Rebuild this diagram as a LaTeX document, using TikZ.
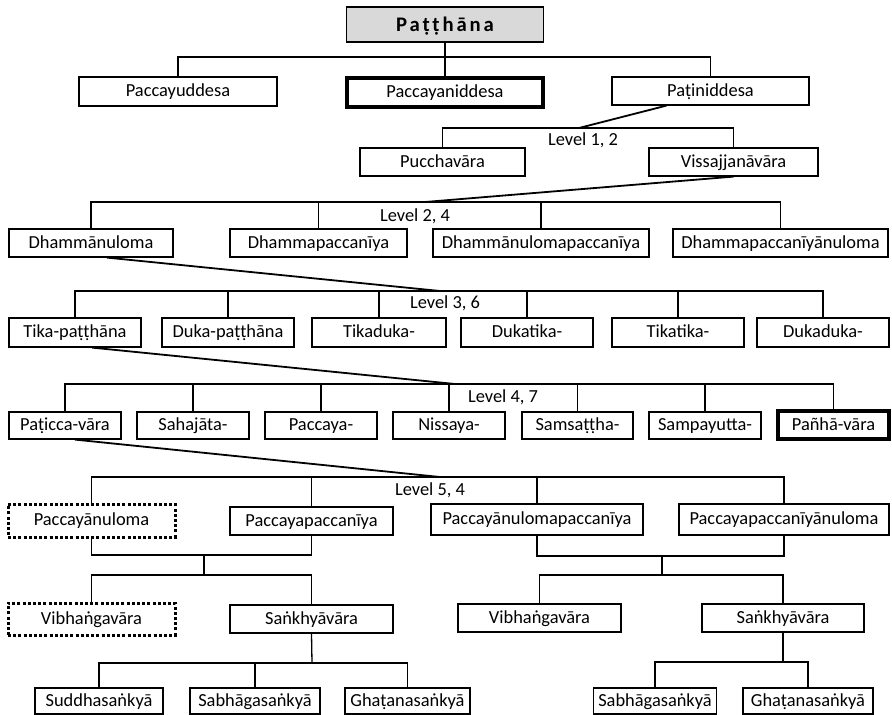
\documentclass[tikz,border=0pt]{standalone}
\usepackage{fontspec}
\setmainfont{Carlito}
\newfontfamily\titlefont[LetterSpace=14]{Carlito}
\usetikzlibrary{calc}
\definecolor{titlegray}{HTML}{D9D9D9}
\begin{document}
\begin{tikzpicture}[x=1pt,y=-1pt,
  box/.style={draw,line width=1.2pt,inner sep=0pt,align=center,
    font=\fontsize{18.4}{20}\selectfont,text height=14pt,text depth=3.6pt},
  thickbox/.style={box,line width=4pt},
  dotbox/.style={box,line width=3pt,dash pattern=on 3pt off 2.2pt},
  lvl/.style={inner sep=0pt,font=\fontsize{18.4}{20}\selectfont,text height=14pt,text depth=3.6pt},
  edge/.style={line width=1.3pt},
  diag/.style={line width=1.8pt},
  sz/.style 2 args={minimum width=#1pt,minimum height=#2pt}
]
\useasboundingbox[fill=white] (0,0) rectangle (892,715);

% Row 0
\node[box,fill=titlegray,sz={197}{35},font=\titlefont\bfseries\fontsize{20.7}{24}\selectfont,text height=16pt,text depth=1.6pt] (pat) at (445,24.5) {Paṭṭhāna};

% Row 1
\node[box,sz={198}{29}] (r1a) at (178,91.5) {Paccayuddesa};
\node[thickbox,sz={196}{29}] (r1b) at (445,92.5) {Paccayaniddesa};
\node[box,sz={197}{28}] (r1c) at (710.5,91) {Paṭiniddesa};

% Level 1
\node[box,sz={165}{28}] (l1a) at (442.5,162) {Pucchavāra};
\node[box,sz={169}{28}] (l1b) at (733.5,162) {Vissajjanāvāra};

% Level 2
\node[box,sz={164}{28}] (l2a) at (91,243) {Dhammānuloma};
\node[box,sz={177}{28}] (l2b) at (318.5,243) {Dhammapaccanīya};
\node[box,sz={216}{28}] (l2c) at (541,243) {Dhammānulomapaccanīya};
\node[box,sz={215}{28}] (l2d) at (780.5,243) {Dhammapaccanīyānuloma};

% Level 3
\node[box,sz={132}{29}] (l3a) at (75,332.5) {Tika-paṭṭhāna};
\node[box,sz={132}{29}] (l3b) at (228,332.5) {Duka-paṭṭhāna};
\node[box,sz={134}{29}] (l3c) at (379,332.5) {Tikaduka-};
\node[box,sz={132}{29}] (l3d) at (527,332.5) {Dukatika-};
\node[box,sz={132}{29}] (l3e) at (678,332.5) {Tikatika-};
\node[box,sz={132}{29}] (l3f) at (823,332.5) {Dukaduka-};

% Level 4
\node[box,sz={112}{27}] (l4a) at (65,425.5) {Paṭicca-vāra};
\node[box,sz={112}{27}] (l4b) at (193,425.5) {Sahajāta-};
\node[box,sz={112}{27}] (l4c) at (321,425.5) {Paccaya-};
\node[box,sz={112}{27}] (l4d) at (449,425.5) {Nissaya-};
\node[box,sz={111}{27}] (l4e) at (577.5,425.5) {Samsaṭṭha-};
\node[box,sz={112}{27}] (l4f) at (705,425.5) {Sampayutta-};
\node[thickbox,sz={111}{28}] (l4g) at (833.5,425) {Pañhā-vāra};

% Level 5
\node[dotbox,sz={167}{33}] (l5a) at (91.5,520.5) {Paccayānuloma};
\node[box,sz={163}{28}] (l5b) at (311.5,521) {Paccayapaccanīya};
\node[box,sz={212}{31}] (l5c) at (537,519.5) {Paccayānulomapaccanīya};
\node[box,sz={210}{31}] (l5d) at (784,519.5) {Paccayapaccanīyānuloma};

% Row 6
\node[dotbox,sz={167}{32}] (l6a) at (91.5,619) {Vibhaṅgavāra};
\node[box,sz={163}{28}] (l6b) at (311.5,619) {Saṅkhyāvāra};
\node[box,sz={163}{28}] (l6c) at (539.5,618) {Vibhaṅgavāra};
\node[box,sz={162}{28}] (l6d) at (783,618) {Saṅkhyāvāra};

% Row 7
\node[box,sz={128}{26}] (l7a) at (99,701) {Suddhasaṅkyā};
\node[box,sz={130}{26}] (l7b) at (255,701) {Sabhāgasaṅkyā};
\node[box,sz={125}{26}] (l7c) at (407.5,701) {Ghaṭanasaṅkyā};
\node[box,sz={123}{26}] (l7d) at (655,701) {Sabhāgasaṅkyā};
\node[box,sz={130}{26}] (l7e) at (808,701) {Ghaṭanasaṅkyā};

% Level labels
\node[lvl] (lv1) at (583,140) {Level 1, 2};
\node[lvl] (lv2) at (415,216) {Level 2, 4};
\node[lvl] (lv3) at (445,303) {Level 3, 6};
\node[lvl] (lv4) at (503,397) {Level 4, 7};
\node[lvl] (lv5) at (430,490) {Level 5, 4};

% Junctions
\coordinate (b0) at (445,57);
\coordinate (j1) at (579,128);
\coordinate (j2) at (425,202);
\coordinate (j3) at (440,291);
\coordinate (j4) at (455,384);
\coordinate (j5) at (440,477);
\coordinate (m1) at (204,555);
\coordinate (m2) at (204,575);
\coordinate (m3) at (662,556);
\coordinate (m4) at (662,575);
\coordinate (m5) at (312,663);
\coordinate (m6) at (784,662);

% Row 0 -> Row 1
\draw[edge] (pat.south) -- (r1b.north);
\draw[edge] (r1a.north) |- (b0) -| (r1c.north);

% Level 1
\draw[diag] ([xshift=-44pt]r1c.south) -- (j1);
\draw[edge] (l1a.north) |- (j1) -| (l1b.north);

% Level 2
\draw[diag] (l1b.south) -- (j2);
\draw[edge] (l2a.north) |- (j2) -| (l2d.north);
\draw[edge] (l2b.north) -- (l2b.north |- j2);
\draw[edge] (l2c.north) -- (l2c.north |- j2);

% Level 3
\draw[diag] ([xshift=16pt]l2a.south) -- (j3);
\draw[edge] (l3a.north) |- (j3) -| (l3f.north);
\foreach \n in {l3b,l3c,l3d,l3e} \draw[edge] (\n.north) -- (\n.north |- j3);

% Level 4
\draw[diag] ([xshift=17pt]l3a.south) -- (j4);
\draw[edge] (l4a.north) |- (j4) -| (l4g.north);
\foreach \n in {l4b,l4c,l4d,l4e,l4f} \draw[edge] (\n.north) -- (\n.north |- j4);

% Level 5
\draw[diag] ([xshift=10pt]l4a.south) -- (j5);
\draw[edge] (l5a.north) |- (j5) -| (l5d.north);
\foreach \n in {l5b,l5c} \draw[edge] (\n.north) -- (\n.north |- j5);

% Lower joins
\draw[edge] (l5a.south) |- (m1) -| (l5b.south);
\draw[edge] (m1) -- (m2);
\draw[edge] (l6a.north) |- (m2) -| (l6b.north);
\draw[edge] (l5c.south) |- (m3) -| (l5d.south);
\draw[edge] (m3) -- (m4);
\draw[edge] (l6c.north) |- (m4) -| (l6d.north);

% Bottom
\draw[edge] (l6b.south) -- (m5);
\draw[edge] (l7a.north) |- (m5) -| (l7c.north);
\draw[edge] (l7b.north) -- (l7b.north |- m5);
\draw[edge] (l6d.south) -- (l6d.south |- m6);
\draw[edge] (l7d.north) |- (m6) -| (l7e.north);
\end{tikzpicture}
\end{document}
